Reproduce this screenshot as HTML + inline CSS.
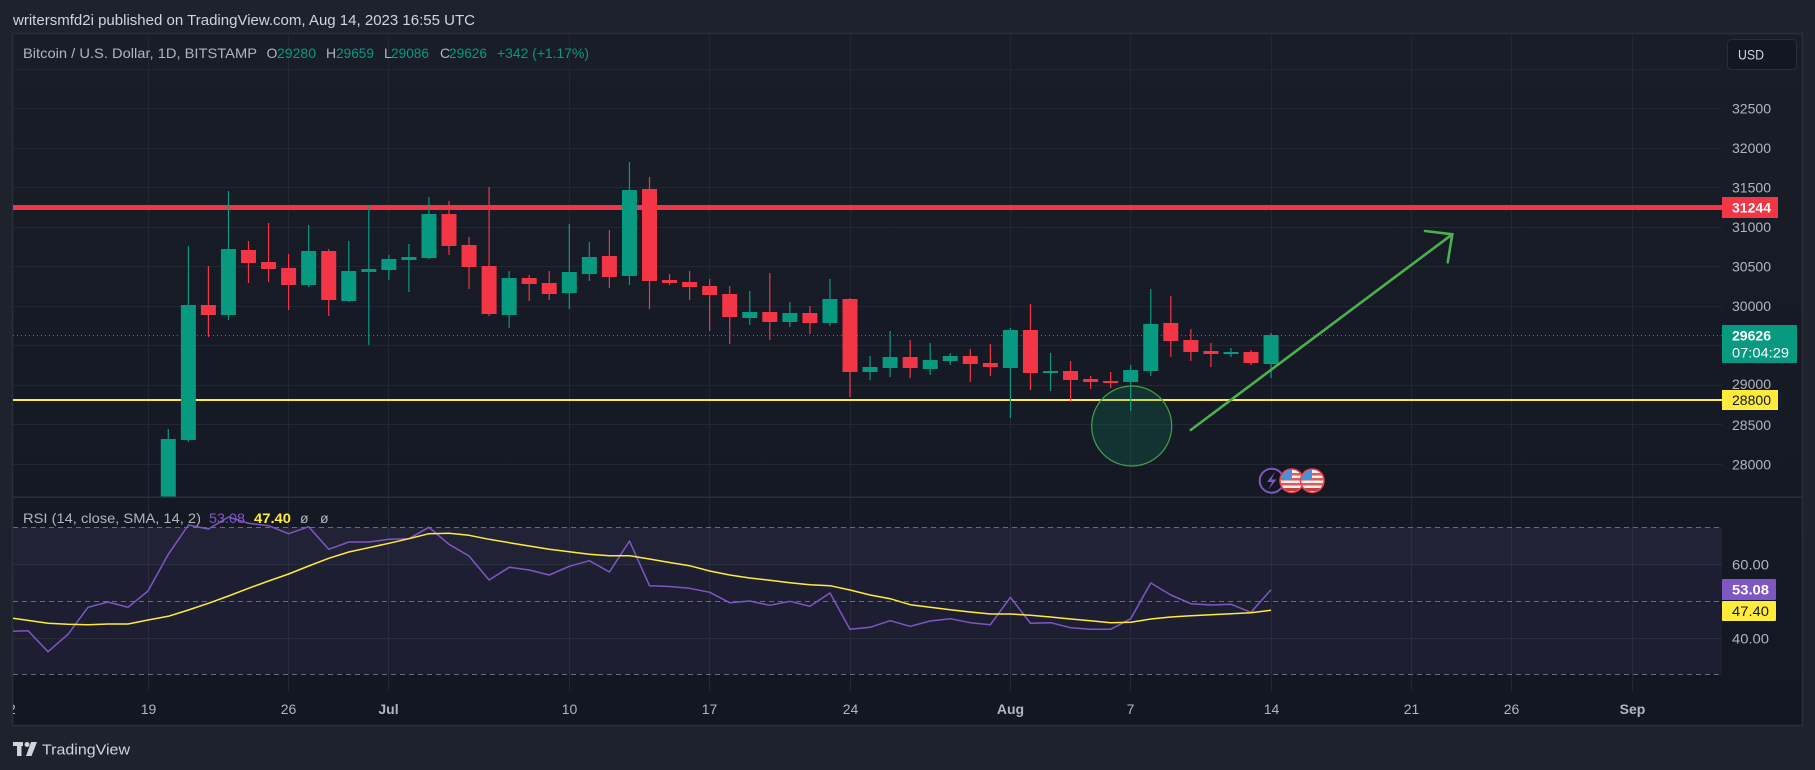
<!DOCTYPE html>
<html><head><meta charset="utf-8"><style>
html,body{margin:0;padding:0;background:#1e222d;}
svg{display:block;font-family:"Liberation Sans",sans-serif;}
</style></head><body>
<svg width="1815" height="770" viewBox="0 0 1815 770" xmlns="http://www.w3.org/2000/svg">
<defs>
<linearGradient id="bg" x1="0" y1="0" x2="0" y2="1">
<stop offset="0" stop-color="#191d28"/><stop offset="1" stop-color="#131722"/>
</linearGradient>
<clipPath id="mainClip"><rect x="13" y="34" width="1709" height="463"/></clipPath>
<clipPath id="rsiClip"><rect x="13" y="498" width="1709" height="193"/></clipPath>
<clipPath id="axClip"><rect x="13" y="691" width="1789" height="34"/></clipPath>
<clipPath id="f1"><circle cx="1291.7" cy="480.7" r="11"/></clipPath>
<clipPath id="f2"><circle cx="1312.3" cy="480.7" r="11"/></clipPath>
</defs>
<rect width="1815" height="770" fill="#1e222d"/>
<text x="13" y="25" font-size="15" fill="#d1d4dc" textLength="462" lengthAdjust="spacingAndGlyphs">writersmfd2i published on TradingView.com, Aug 14, 2023 16:55 UTC</text>
<!-- frame -->
<rect x="12.5" y="33.5" width="1790" height="692" fill="url(#bg)" stroke="#2a2e39" stroke-width="1.5"/>
<!-- vertical grid -->
<g stroke="#232733" stroke-width="1">
<path d="M148.5 34V691M288.5 34V691M388.5 34V691M569.5 34V691M709.5 34V691M850.5 34V691M1010.5 34V691M1130.5 34V691M1271.5 34V691M1411.5 34V691M1511.5 34V691M1632.5 34V691"/>
<!-- horizontal grid main -->
<path d="M13 69.5H1722M13 108.5H1722M13 148.5H1722M13 187.5H1722M13 227.5H1722M13 266.5H1722M13 306.5H1722M13 345.5H1722M13 385.5H1722M13 424.5H1722M13 464.5H1722"/>
</g>
<!-- main pane -->
<g clip-path="url(#mainClip)">
<rect x="13" y="205" width="1709" height="5" fill="#f23645"/>
<rect x="13" y="399" width="1709" height="2" fill="#ffeb3b"/>
<path d="M13 335.5H1722" stroke="#089981" stroke-width="1" stroke-dasharray="1 3"/>
<g fill="#089981" stroke="#089981" stroke-width="1.2">
<path d="M168.3 429V500M188.35 246V442M228.45 191V320M308.65 225V287M348.75 241V302M368.8 206V345M388.85 255V280M408.9 244V292M428.95 197V259M509.15 271V328M569.3 224V309M589.35 242V281M629.45 162V285M749.75 291V325M789.85 302V327M829.95 279V326M870.05 356V380M890.1 331V377M930.2 343V375M950.25 353V365M1010.4 328V418M1050.5 353V391M1130.7 365V411M1150.75 289V376M1230.95 348V357M1271.05 333V378"/>
<g stroke="none">
<rect x="160.8" y="439" width="15" height="61"/>
<rect x="180.85" y="305" width="15" height="135"/>
<rect x="220.95" y="249" width="15" height="66"/>
<rect x="301.15" y="251" width="15" height="34"/>
<rect x="341.25" y="271" width="15" height="30"/>
<rect x="361.3" y="269" width="15" height="3"/>
<rect x="381.35" y="259" width="15" height="11"/>
<rect x="401.4" y="257" width="15" height="3"/>
<rect x="421.45" y="214" width="15" height="44"/>
<rect x="501.65" y="278" width="15" height="37"/>
<rect x="561.8" y="272" width="15" height="21"/>
<rect x="581.85" y="257" width="15" height="17"/>
<rect x="621.95" y="190" width="15" height="86"/>
<rect x="742.25" y="312" width="15" height="6"/>
<rect x="782.35" y="313" width="15" height="9"/>
<rect x="822.45" y="299" width="15" height="24"/>
<rect x="862.55" y="367" width="15" height="5"/>
<rect x="882.6" y="357" width="15" height="11"/>
<rect x="922.7" y="360" width="15" height="9"/>
<rect x="942.75" y="356" width="15" height="5"/>
<rect x="1002.9" y="330" width="15" height="38"/>
<rect x="1043" y="371" width="15" height="2"/>
<rect x="1123.2" y="370" width="15" height="12"/>
<rect x="1143.25" y="324" width="15" height="47"/>
<rect x="1223.45" y="352" width="15" height="2"/>
<rect x="1263.55" y="335" width="15" height="29"/>
</g></g>
<g fill="#f23645" stroke="#f23645" stroke-width="1.2">
<path d="M208.4 266V337M248.5 241V283M268.55 223V282M288.6 254V310M328.7 249V316M449 201V255M469.05 237V289M489.1 187V316M529.2 275V301M549.25 271V300M609.4 230V288M649.5 177V309M669.55 274V285M689.6 271V300M709.65 279V331M729.7 286V344M769.8 273V340M809.9 306V334M850 298V397M910.15 340V378M970.3 349V382M990.35 344V376M1030.45 304V390M1070.55 361V402M1090.6 376V389M1110.65 372V388M1170.8 296V357M1190.85 329V361M1210.9 343V367M1251 350V365"/>
<g stroke="none">
<rect x="200.9" y="305" width="15" height="10"/>
<rect x="241" y="250" width="15" height="13"/>
<rect x="261.05" y="262" width="15" height="7"/>
<rect x="281.1" y="268" width="15" height="17"/>
<rect x="321.2" y="251" width="15" height="49"/>
<rect x="441.5" y="214" width="15" height="32"/>
<rect x="461.55" y="245" width="15" height="22"/>
<rect x="481.6" y="266" width="15" height="48"/>
<rect x="521.7" y="278" width="15" height="6"/>
<rect x="541.75" y="283" width="15" height="11"/>
<rect x="601.9" y="256" width="15" height="21"/>
<rect x="642" y="189" width="15" height="92"/>
<rect x="662.05" y="280" width="15" height="3"/>
<rect x="682.1" y="282" width="15" height="5"/>
<rect x="702.15" y="286" width="15" height="9"/>
<rect x="722.2" y="294" width="15" height="23"/>
<rect x="762.3" y="312" width="15" height="10"/>
<rect x="802.4" y="313" width="15" height="10"/>
<rect x="842.5" y="299" width="15" height="73"/>
<rect x="902.65" y="357" width="15" height="11"/>
<rect x="962.8" y="356" width="15" height="8"/>
<rect x="982.85" y="363" width="15" height="4"/>
<rect x="1022.95" y="330" width="15" height="43"/>
<rect x="1063.05" y="371" width="15" height="9"/>
<rect x="1083.1" y="379" width="15" height="3"/>
<rect x="1103.15" y="381" width="15" height="2"/>
<rect x="1163.3" y="323" width="15" height="18"/>
<rect x="1183.35" y="340" width="15" height="12"/>
<rect x="1203.4" y="351" width="15" height="3"/>
<rect x="1243.5" y="352" width="15" height="11"/>
</g></g>
<circle cx="1131.7" cy="426" r="40" fill="rgba(8,153,110,0.2)" stroke="#43a047" stroke-width="1.2"/>
<g stroke="#4caf50" stroke-width="2.6" stroke-linecap="round" fill="none">
<path d="M1190.7 430L1452.3 234.3"/>
<path d="M1425 231L1452.3 234.3L1447.7 262.3"/>
</g>
<!-- event icons -->
<circle cx="1271.7" cy="480.7" r="12" fill="#131722" stroke="#7e57c2" stroke-width="2"/>
<path d="M1275 472L1267 482H1272L1268.5 489.5L1276.5 479.5H1271.5Z" fill="#7e57c2"/>
<g>
<circle cx="1291.7" cy="480.7" r="12.5" fill="#f23645"/>
<g clip-path="url(#f1)"><rect x="1280" y="469" width="24" height="24" fill="#f0f0f0"/>
<rect x="1280" y="473" width="24" height="2.5" fill="#e05a5a"/><rect x="1280" y="478" width="24" height="2.5" fill="#e05a5a"/><rect x="1280" y="483" width="24" height="2.5" fill="#e05a5a"/><rect x="1280" y="488" width="24" height="3" fill="#c04040"/>
<rect x="1280" y="469" width="12" height="10" fill="#4a90d9"/></g>
</g>
<g>
<circle cx="1312.3" cy="480.7" r="12.5" fill="#f23645"/>
<g clip-path="url(#f2)"><rect x="1300" y="469" width="24" height="24" fill="#f0f0f0"/>
<rect x="1300" y="473" width="24" height="2.5" fill="#e05a5a"/><rect x="1300" y="478" width="24" height="2.5" fill="#e05a5a"/><rect x="1300" y="483" width="24" height="2.5" fill="#e05a5a"/><rect x="1300" y="488" width="24" height="3" fill="#c04040"/>
<rect x="1300" y="469" width="12" height="10" fill="#4a90d9"/></g>
</g>
</g>
<!-- legend -->
<g font-size="14">
<text x="23" y="58" fill="#b2b5be" textLength="234" lengthAdjust="spacingAndGlyphs">Bitcoin / U.S. Dollar, 1D, BITSTAMP</text>
<text x="266.5" y="58" fill="#b2b5be">O</text>
<text x="277" y="58" fill="#089981" textLength="39" lengthAdjust="spacingAndGlyphs">29280</text>
<text x="326" y="58" fill="#b2b5be">H</text>
<text x="336" y="58" fill="#089981" textLength="38" lengthAdjust="spacingAndGlyphs">29659</text>
<text x="384" y="58" fill="#b2b5be">L</text>
<text x="391" y="58" fill="#089981" textLength="38" lengthAdjust="spacingAndGlyphs">29086</text>
<text x="440" y="58" fill="#b2b5be">C</text>
<text x="449" y="58" fill="#089981" textLength="38" lengthAdjust="spacingAndGlyphs">29626</text>
<text x="497" y="58" fill="#089981" textLength="92" lengthAdjust="spacingAndGlyphs">+342 (+1.17%)</text>
</g>
<!-- pane separator -->
<rect x="13" y="496.5" width="1789" height="1.5" fill="#2a2e39"/>
<!-- RSI pane -->
<g clip-path="url(#rsiClip)">
<rect x="13" y="527.3" width="1709" height="147" fill="rgba(126,87,194,0.10)"/>
<rect x="13" y="527.3" width="1709" height="37" fill="rgba(140,140,160,0.03)"/>
<g stroke="#2a2e3b" stroke-width="1"><path d="M13 564.5H1722M13 638.5H1722"/></g>
<g stroke="#787b86" stroke-width="1" stroke-dasharray="5 4" opacity="0.85"><path d="M13 527.5H1722M13 601.5H1722M13 674.5H1722"/></g>
<polyline fill="none" stroke="#7e57c2" stroke-width="1.5" stroke-linejoin="round" points="8,631.5 28,630.7 48,651.7 68,634.3 88,607.3 108,602 128,607.3 148,591 168.3,554.3 188.4,525 208.4,529 228.5,517 248.5,523.3 268.6,525.7 288.6,533.7 308.7,526.7 328.7,549.3 348.8,542 368.8,542 388.9,539.3 408.9,538.7 428.9,527.3 449,544.3 469,556 489.1,580 509.2,567.3 529.2,570 549.3,575 569.3,566.3 589.4,560.7 609.4,572 629.5,541 649.5,585.7 669.6,586.5 689.6,588.3 709.7,592.3 729.7,602.7 749.8,601 769.8,605.3 789.9,601.3 809.9,606.3 830,593 850,629.3 870.1,627.3 890.1,620.7 910.2,626.3 930.2,621 950.3,618.7 970.3,622.7 990.4,624.7 1010.4,597.3 1030.5,623.3 1050.5,622.7 1070.6,627.7 1090.6,629.3 1110.7,629.3 1130.7,618.7 1150.8,583 1170.8,595 1190.9,603.7 1210.9,605 1231,604.3 1251,612.3 1271,589.7"/>
<polyline fill="none" stroke="#ffeb3b" stroke-width="1.5" stroke-linejoin="round" points="8,617.5 28,620.4 48,623.3 68,624.3 88,624.7 108,624 128,624 148,620 168.3,616.3 188.4,610 208.4,603.3 228.5,596 248.5,588.3 268.6,581 288.6,574 308.7,566 328.7,558.3 348.8,552 368.8,547.7 388.9,543.3 408.9,538.7 428.9,533.7 449,533.3 469,535.3 489.1,539.3 509.2,542.7 529.2,546 549.3,549.3 569.3,551.7 589.4,554.3 609.4,555.7 629.5,555.7 649.5,559 669.6,562.5 689.6,565.7 709.7,571 729.7,575 749.8,578 769.8,580.3 789.9,582.7 809.9,584.7 830,585.7 850,590 870.1,595 890.1,598.7 910.2,604.7 930.2,607.3 950.3,609.7 970.3,612 990.4,614 1010.4,614 1030.5,615.3 1050.5,617 1070.6,619 1090.6,620.7 1110.7,622.7 1130.7,622.3 1150.8,619 1170.8,617 1190.9,615.7 1210.9,614.7 1231,613.7 1251,612.7 1271,610.3"/>
</g>
<g font-size="14">
<text x="23" y="523" fill="#b2b5be" textLength="178" lengthAdjust="spacingAndGlyphs">RSI (14, close, SMA, 14, 2)</text>
<text x="209" y="523" fill="#7e57c2" textLength="36" lengthAdjust="spacingAndGlyphs">53.08</text>
<text x="254" y="523" fill="#ffeb3b" font-weight="bold" textLength="37" lengthAdjust="spacingAndGlyphs">47.40</text>
<text x="300" y="523" fill="#b2b5be">ø</text>
<text x="320" y="523" fill="#b2b5be">ø</text>
</g>
<!-- price axis -->
<g font-size="14" fill="#b2b5be">
<text x="1732" y="113.5" textLength="39" lengthAdjust="spacingAndGlyphs">32500</text>
<text x="1732" y="153" textLength="39" lengthAdjust="spacingAndGlyphs">32000</text>
<text x="1732" y="192.5" textLength="39" lengthAdjust="spacingAndGlyphs">31500</text>
<text x="1732" y="232" textLength="39" lengthAdjust="spacingAndGlyphs">31000</text>
<text x="1732" y="271.5" textLength="39" lengthAdjust="spacingAndGlyphs">30500</text>
<text x="1732" y="311" textLength="39" lengthAdjust="spacingAndGlyphs">30000</text>
<text x="1732" y="389" textLength="39" lengthAdjust="spacingAndGlyphs">29000</text>
<text x="1732" y="430" textLength="39" lengthAdjust="spacingAndGlyphs">28500</text>
<text x="1732" y="469.5" textLength="39" lengthAdjust="spacingAndGlyphs">28000</text>
<text x="1732" y="569.5" textLength="37" lengthAdjust="spacingAndGlyphs">60.00</text>
<text x="1732" y="643.5" textLength="37" lengthAdjust="spacingAndGlyphs">40.00</text>
</g>
<rect x="1727.5" y="39.5" width="69" height="30" rx="4" fill="#131722" stroke="#2a2e39"/>
<text x="1738" y="59.5" font-size="14" fill="#d1d4dc" textLength="26" lengthAdjust="spacingAndGlyphs">USD</text>
<rect x="1722" y="197" width="56" height="21" fill="#f23645"/>
<text x="1732" y="212.5" font-size="14" font-weight="bold" fill="#ffffff" textLength="39" lengthAdjust="spacingAndGlyphs">31244</text>
<rect x="1722" y="325" width="75" height="38" rx="1" fill="#089981"/>
<text x="1732" y="340.5" font-size="14" font-weight="bold" fill="#ffffff" textLength="39" lengthAdjust="spacingAndGlyphs">29626</text>
<text x="1732" y="357.5" font-size="14" fill="#ffffff" textLength="57" lengthAdjust="spacingAndGlyphs">07:04:29</text>
<rect x="1722" y="390" width="56" height="20" fill="#ffeb3b"/>
<text x="1732" y="405" font-size="14" fill="#131722" textLength="39" lengthAdjust="spacingAndGlyphs">28800</text>
<rect x="1722" y="579" width="54" height="21" rx="1" fill="#7e57c2"/>
<text x="1732" y="594.5" font-size="14" font-weight="bold" fill="#ffffff" textLength="37" lengthAdjust="spacingAndGlyphs">53.08</text>
<rect x="1722" y="601" width="54" height="20" rx="1" fill="#ffeb3b"/>
<text x="1732" y="616" font-size="14" fill="#131722" textLength="37" lengthAdjust="spacingAndGlyphs">47.40</text>
<!-- time axis -->
<g font-size="14" fill="#b2b5be" text-anchor="middle" clip-path="url(#axClip)">
<text x="8" y="714">12</text>
<text x="148.5" y="714">19</text>
<text x="288.5" y="714">26</text>
<text x="388.5" y="714" font-weight="bold">Jul</text>
<text x="569.5" y="714">10</text>
<text x="709.5" y="714">17</text>
<text x="850.5" y="714">24</text>
<text x="1010.5" y="714" font-weight="bold">Aug</text>
<text x="1130.5" y="714">7</text>
<text x="1271.5" y="714">14</text>
<text x="1411.5" y="714">21</text>
<text x="1511.5" y="714">26</text>
<text x="1632.5" y="714" font-weight="bold">Sep</text>
</g>
<!-- footer logo -->
<g fill="#d1d4dc">
<rect x="13" y="742" width="10" height="4"/>
<rect x="17" y="742" width="4.5" height="14"/>
<circle cx="27" cy="744.5" r="2.5"/>
<path d="M31 742H37L31.5 756H26Z"/>
<text x="42" y="754.5" font-size="15" textLength="88" lengthAdjust="spacingAndGlyphs">TradingView</text>
</g>
</svg>
</body></html>
